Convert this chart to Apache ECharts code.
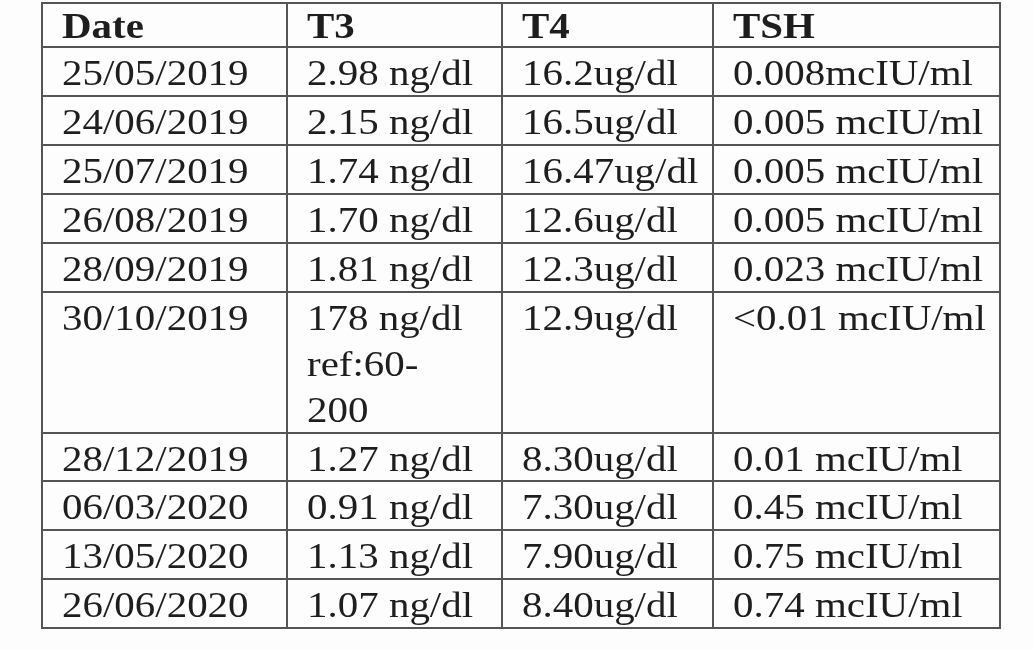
<!DOCTYPE html>
<html><head><meta charset="utf-8">
<script src="https://cdn.jsdelivr.net/npm/echarts@6/dist/echarts.min.js"></script>
<style>html,body{margin:0;background:#fff}#view{width:1034px;height:650px}</style>
</head><body><div id="view"></div>
<script>
var headers = ['Date', 'T3', 'T4', 'TSH'];
var dates = ['25/05/2019','24/06/2019','25/07/2019','26/08/2019','28/09/2019','30/10/2019','28/12/2019','06/03/2020','13/05/2020','26/06/2020'];
var t3 = ['2.98 ng/dl','2.15 ng/dl','1.74 ng/dl','1.70 ng/dl','1.81 ng/dl','178 ng/dl\nref:60-\n200','1.27 ng/dl','0.91 ng/dl','1.13 ng/dl','1.07 ng/dl'];
var t4 = ['16.2ug/dl','16.5ug/dl','16.47ug/dl','12.6ug/dl','12.3ug/dl','12.9ug/dl','8.30ug/dl','7.30ug/dl','7.90ug/dl','8.40ug/dl'];
var tsh = ['0.008mcIU/ml','0.005 mcIU/ml','0.005 mcIU/ml','0.005 mcIU/ml','0.023 mcIU/ml','<0.01 mcIU/ml','0.01 mcIU/ml','0.45 mcIU/ml','0.75 mcIU/ml','0.74 mcIU/ml'];

// layout (axis units = pixels of table)
var colEdges = [0, 245, 460, 671, 958];
var rowEdges = [0, 44, 93, 142, 191, 240, 289, 430, 478, 527, 576, 625];

var cells = [];
headers.forEach(function (h, c) { cells.push([c, 0, h, 1]); });
var cols = [dates, t3, t4, tsh];
cols.forEach(function (arr, c) {
  arr.forEach(function (v, r) { cells.push([c, r + 1, v, 0]); });
});

var myChart = echarts.init(document.getElementById('view'));
myChart.setOption({
  backgroundColor: '#fdfdfd',
  grid: { left: 42, top: 3, width: 958, height: 627 },
  xAxis: { type: 'value', min: 0, max: 958, show: false },
  yAxis: { type: 'value', min: 0, max: 627, inverse: true, show: false },
  series: [{
    type: 'custom',
    data: cells,
    renderItem: function (params, api) {
      var c = api.value(0), r = api.value(1);
      var p0 = api.coord([colEdges[c], rowEdges[r]]);
      var p1 = api.coord([colEdges[c + 1], rowEdges[r + 1]]);
      var item = cells[params.dataIndex];
      return {
        type: 'group',
        children: [
          { type: 'rect', shape: { x: p0[0], y: p0[1], width: p1[0] - p0[0], height: p1[1] - p0[1] },
            style: { fill: 'transparent', stroke: '#555', lineWidth: 2 } },
          { type: 'text', x: p0[0] + 20, y: p0[1] + (r === 0 ? 3 : 6), scaleX: 1.17,
            style: { text: item[2], fill: '#1e1e1e', fontFamily: 'Liberation Serif',
              fontSize: 35, fontWeight: item[3] ? 'bold' : 'normal', lineHeight: 46,
              verticalAlign: 'top' } }
        ]
      };
    }
  }]
});
</script></body></html>
